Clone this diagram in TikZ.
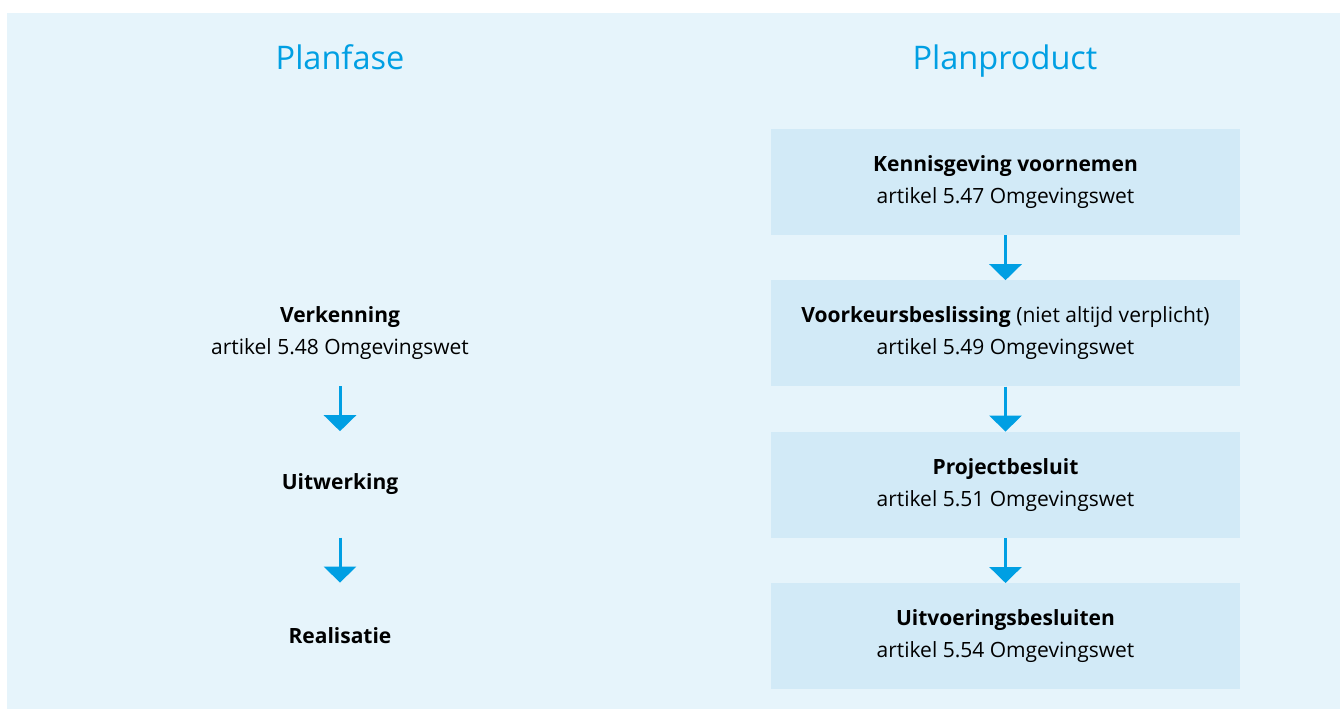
\documentclass[tikz,border=0pt]{standalone}
\usepackage{fontspec}
\setmainfont{Open Sans}
\usetikzlibrary{positioning,arrows.meta}
\definecolor{bgblue}{HTML}{E6F4FB}
\definecolor{boxblue}{HTML}{D2EAF7}
\definecolor{roblue}{HTML}{009FE3}
\tikzset{
  stap/.style={minimum width=469pt,minimum height=106pt,align=center,inner sep=0pt,
    font=\fontsize{21}{32}\selectfont},
  stapbox/.style={stap,fill=boxblue},
  kop/.style={text=roblue,anchor=base,font=\fontsize{32.5}{38}\selectfont},
  pijl/.style={roblue,line width=3pt,-{Triangle[width=32pt,length=16pt]}}
}
\begin{document}
\begin{tikzpicture}[x=1pt,y=-1pt,node distance=45pt]
      \useasboundingbox (0,0) rectangle (1340,709);
      \fill[bgblue] (7,13) rectangle (1340,709);
      \node[kop] (planfase) at (340,70) {Planfase};
      \node[kop] (planproduct) at (1005,70) {Planproduct};
      \node[stapbox] (kennis) at (1005.5,182) {\textbf{Kennisgeving voornemen}\\artikel 5.47 Omgevingswet};
      \node[stapbox,below=of kennis] (voorkeur) {\textbf{Voorkeursbeslissing} (niet altijd verplicht)\\artikel 5.49 Omgevingswet};
      \node[stapbox,below=of voorkeur] (project) {\textbf{Projectbesluit}\\artikel 5.51 Omgevingswet};
      \node[stapbox,below=of project] (uitvoering) {\textbf{Uitvoeringsbesluiten}\\artikel 5.54 Omgevingswet};
      \node[stap] (verkenning) at (340,333) {\textbf{Verkenning}\\artikel 5.48 Omgevingswet};
      \node[stap,below=of verkenning] (uitwerking) {\textbf{Uitwerking}};
      \node[stap,below=of uitwerking] (realisatie) {\textbf{Realisatie}};
      \draw[pijl] (kennis) -- (voorkeur);
      \draw[pijl] (voorkeur) -- (project);
      \draw[pijl] (project) -- (uitvoering);
      \draw[pijl] (verkenning) -- (uitwerking);
      \draw[pijl] (uitwerking) -- (realisatie);
    \end{tikzpicture}
\end{document}
